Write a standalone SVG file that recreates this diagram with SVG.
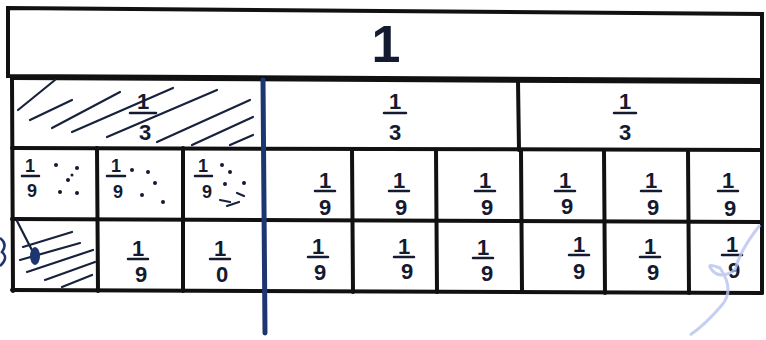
<svg xmlns="http://www.w3.org/2000/svg" width="766" height="340" viewBox="0 0 766 340">
<style>
.grid{fill:none;stroke:#111;stroke-width:4;stroke-linecap:round}
.blue{stroke:#1d3570;stroke-width:5;stroke-linecap:round;fill:none}
.hatch{stroke:#18223d;stroke-width:2.2;stroke-linecap:round;fill:none}
.t{font-family:"Liberation Sans",Arial,sans-serif;font-size:22px;font-weight:bold;fill:#141a30;text-anchor:middle}
.s{font-size:18px}
.big{font-size:52px;font-weight:bold}
.fl{stroke:#141a30;stroke-width:2.5;stroke-linecap:round}
.dot{fill:#141a30}
</style>
<rect width="766" height="340" fill="#fff"/>
<g id="connectors">
<path class="grid" d="M8 8 L762 14 L762 80 L8 76 Z"/>
<path class="grid" d="M12 78 L762 82 M12 148 L762 150 M12 219 L762 222 M12 290 L762 293"/>
<path class="grid" d="M12 78 L13 291 M762 80 L762 293"/>
<path class="grid" d="M518 81 L519 150 M97 148 L98 291 M183 148 L183 291 M352 150 L353 292 M436 150 L437 292 M521 151 L522 292 M604 151 L605 293 M688 151 L689 293"/>
<path class="blue" d="M263 80 L265 333"/>
</g>
<g id="node-whole"><text class="t big" x="386" y="62">1</text></g>
<g id="node-third-1">
<path class="hatch" d="M18 110 L55 80 M30 120 L72 100 M52 128 L120 92 M72 132 L173 88 M107 137 L217 90 M157 142 L250 100 M192 145 L253 117 M230 145 L253 135"/>
<text class="t" x="143" y="109">1</text><line class="fl" x1="130" y1="113" x2="156" y2="113"/><text class="t" x="145" y="140">3</text>
</g>
<g id="node-third-2"><text class="t" x="395" y="109">1</text><line class="fl" x1="384" y1="113" x2="406" y2="113"/><text class="t" x="395" y="140">3</text></g>
<g id="node-third-3"><text class="t" x="625" y="109">1</text><line class="fl" x1="614" y1="113" x2="636" y2="113"/><text class="t" x="625" y="140">3</text></g>
<g id="node-r3-1"><text class="t s" x="30" y="172">1</text><line class="fl" x1="22" y1="176" x2="39" y2="176"/><text class="t s" x="32" y="197">9</text>
<circle class="dot" cx="56" cy="165" r="2"/><circle class="dot" cx="77" cy="168" r="2"/><circle class="dot" cx="68" cy="180" r="2"/><circle class="dot" cx="60" cy="192" r="2"/><circle class="dot" cx="77" cy="193" r="2"/><circle class="dot" cx="72" cy="175" r="1.5"/></g>
<g id="node-r3-2"><text class="t s" x="116" y="172">1</text><line class="fl" x1="107" y1="176" x2="125" y2="176"/><text class="t s" x="118" y="198">9</text>
<circle class="dot" cx="132" cy="170" r="2"/><circle class="dot" cx="148" cy="172" r="2"/><circle class="dot" cx="155" cy="183" r="2"/><circle class="dot" cx="142" cy="195" r="2"/><circle class="dot" cx="163" cy="202" r="2"/></g>
<g id="node-r3-3"><text class="t s" x="203" y="172">1</text><line class="fl" x1="195" y1="176" x2="212" y2="176"/><text class="t s" x="207" y="198">9</text>
<circle class="dot" cx="222" cy="165" r="2"/><circle class="dot" cx="230" cy="172" r="2"/><circle class="dot" cx="244" cy="183" r="2"/><circle class="dot" cx="225" cy="184" r="2"/><path class="hatch" d="M220 200 L230 202 M227 206 L239 202 M237 193 L244 196"/></g>
<g id="node-r3-4"><text class="t" x="325" y="188">1</text><line class="fl" x1="315" y1="191" x2="335" y2="191"/><text class="t" x="325" y="215">9</text></g>
<g id="node-r3-5"><text class="t" x="399" y="188">1</text><line class="fl" x1="389" y1="191" x2="409" y2="191"/><text class="t" x="401" y="215">9</text></g>
<g id="node-r3-6"><text class="t" x="485" y="188">1</text><line class="fl" x1="475" y1="191" x2="495" y2="191"/><text class="t" x="487" y="215">9</text></g>
<g id="node-r3-7"><text class="t" x="565" y="188">1</text><line class="fl" x1="555" y1="191" x2="575" y2="191"/><text class="t" x="567" y="214">9</text></g>
<g id="node-r3-8"><text class="t" x="651" y="188">1</text><line class="fl" x1="641" y1="191" x2="661" y2="191"/><text class="t" x="653" y="215">9</text></g>
<g id="node-r3-9"><text class="t" x="728" y="188">1</text><line class="fl" x1="718" y1="191" x2="738" y2="191"/><text class="t" x="730" y="216">9</text></g>
<g id="node-r4-1">
<path class="hatch" d="M23 247 L72 232 M20 260 L80 243 M27 272 L93 250 M45 280 L95 262 M62 287 L92 275 M17 221 L37 260"/>
<ellipse cx="35" cy="256" rx="5" ry="9" fill="#1d3570"/>
</g>
<g id="node-r4-2"><text class="t" x="138" y="256">1</text><line class="fl" x1="128" y1="259" x2="148" y2="259"/><text class="t" x="141" y="282">9</text></g>
<g id="node-r4-3"><text class="t" x="220" y="256">1</text><line class="fl" x1="210" y1="259" x2="230" y2="259"/><text class="t" x="222" y="282">0</text></g>
<g id="node-r4-4"><text class="t" x="318" y="254">1</text><line class="fl" x1="308" y1="257" x2="328" y2="257"/><text class="t" x="320" y="280">9</text></g>
<g id="node-r4-5"><text class="t" x="404" y="254">1</text><line class="fl" x1="394" y1="257" x2="414" y2="257"/><text class="t" x="407" y="279">9</text></g>
<g id="node-r4-6"><text class="t" x="483" y="255">1</text><line class="fl" x1="473" y1="258" x2="493" y2="258"/><text class="t" x="487" y="281">9</text></g>
<g id="node-r4-7"><text class="t" x="579" y="252">1</text><line class="fl" x1="569" y1="255" x2="589" y2="255"/><text class="t" x="579" y="279">9</text></g>
<g id="node-r4-8"><text class="t" x="650" y="254">1</text><line class="fl" x1="640" y1="257" x2="660" y2="257"/><text class="t" x="653" y="280">9</text></g>
<g id="node-r4-9"><text class="t" x="732" y="252">1</text><line class="fl" x1="722" y1="255" x2="742" y2="255"/><text class="t" x="734" y="278">9</text></g>
<path d="M0 238 Q8 244 2 252 Q9 258 0 266" fill="none" stroke="#1d3570" stroke-width="2.5"/>
<path d="M760 225 Q740 250 735 270 Q720 280 712 270 Q705 262 720 268 Q735 290 722 305 Q705 325 690 335" fill="none" stroke="#b8c2ee" stroke-width="3" opacity="0.8"/>
</svg>
